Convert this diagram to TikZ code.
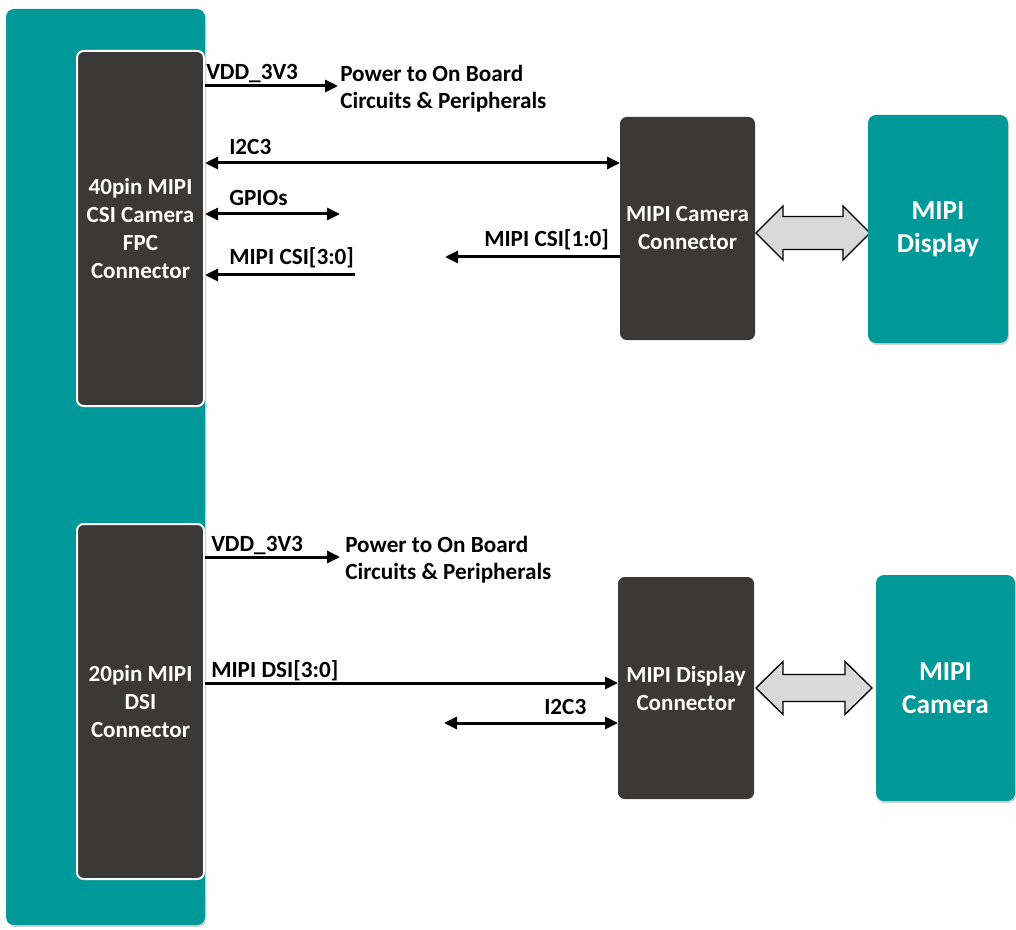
\documentclass[tikz,border=0pt]{standalone}
\usepackage{fontspec}
\setmainfont{Carlito}
\usetikzlibrary{arrows.meta,shadows,calc}
\definecolor{tealA}{HTML}{009999}
\definecolor{darkA}{HTML}{3A3938}
\definecolor{greyA}{HTML}{D9D9D9}
\begin{document}
\begin{tikzpicture}[x=0.75pt,y=-0.75pt,
  shd/.style={drop shadow={opacity=0.35,shadow xshift=0.8pt,shadow yshift=-1.5pt}},
  boardbox/.style={fill=tealA,rounded corners=6pt,shd,inner sep=0},
  connbox/.style={fill=darkA,draw=white,line width=1.5pt,rounded corners=5pt,text=white,
    font=\bfseries\fontsize{17.3}{21}\selectfont,align=center,inner sep=0},
  devbox/.style={fill=tealA,rounded corners=6pt,text=white,shd,
    font=\bfseries\fontsize{20.5}{24.5}\selectfont,align=center,inner sep=0},
  sig/.style={line width=2.25pt,-{Triangle[length=9.75pt,width=9pt]}},
  bisig/.style={line width=2.25pt,{Triangle[length=9.75pt,width=9pt]}-{Triangle[length=9.75pt,width=9pt]}},
  lbl/.style={font=\bfseries\fontsize{17.4}{20.25}\selectfont,inner sep=0,anchor=base west},
  ptxt/.style={font=\bfseries\fontsize{17.4}{20.25}\selectfont,inner sep=0,anchor=west,align=left},
  blkarrow/.style={fill=greyA,draw=black,line width=1pt,line join=miter}
]
\useasboundingbox (0,0) rectangle (1016,930);

% main board and connectors
\node[boardbox,minimum width=199*0.75pt,minimum height=916*0.75pt] (board) at (105.5,467) {};
\node[connbox,minimum width=127*0.75pt,minimum height=355*0.75pt] (fpc) at (140.5,228.5)
  {40pin MIPI\\CSI Camera\\FPC\\Connector};
\node[connbox,minimum width=127*0.75pt,minimum height=355*0.75pt] (dsi) at (140.5,701.5)
  {20pin MIPI\\DSI\\Connector};

\node[connbox,line width=0pt,draw=none,minimum width=135*0.75pt,minimum height=223*0.75pt] (camconn) at (687.5,228.5)
  {MIPI Camera\\Connector};
\node[connbox,line width=0pt,draw=none,minimum width=136*0.75pt,minimum height=222*0.75pt] (dispconn) at (686,688)
  {MIPI Display\\Connector};

% block double arrows (drawn before the device boxes)
\draw[blkarrow] ($(camconn.east)+(1,4.5)$) -- ++(27,-27) -- ++(0,10.5) -- ++(60,0) -- ++(0,-10.5)
  -- ++(27,27) -- ++(-27,27) -- ++(0,-10.5) -- ++(-60,0) -- ++(0,10.5) -- cycle;
\draw[blkarrow] ($(dispconn.east)+(2,0)$) -- ++(27,-26.5) -- ++(0,13) -- ++(62,0) -- ++(0,-13)
  -- ++(27,26.5) -- ++(-27,26.5) -- ++(0,-13) -- ++(-62,0) -- ++(0,13) -- cycle;

\node[devbox,minimum width=140*0.75pt,minimum height=228*0.75pt] (disp) at (938,229) {MIPI\\Display};
\node[devbox,minimum width=139*0.75pt,minimum height=226*0.75pt] (cam) at (945.5,688) {MIPI\\Camera};

% ---- top section signals
\coordinate (pw1) at (338,86);
\coordinate (i2ct) at (617,163);
\coordinate (gp) at (340,214);
\coordinate (csi3) at (355,275);
\coordinate (csi1) at (445,257);

\node[lbl] (vdd1) at (206,80) {VDD\_3V3};
\node[ptxt] (pow1) at (340,88.5) {Power to On Board\\Circuits \& Peripherals};
\draw[sig] (fpc.east |- pw1) -- (pw1);

\node[lbl] (li2c1) at (229,155) {I2C3};
\draw[bisig] (fpc.east |- i2ct) -- (camconn.west |- i2ct);

\node[lbl] (lgp) at (229,206) {GPIOs};
\draw[bisig] (fpc.east |- gp) -- (gp);

\node[lbl] (lcsi3) at (229,265) {MIPI CSI[3:0]};
\draw[sig] (csi3) -- (fpc.east |- csi3);

\node[lbl] (lcsi1) at (484,247) {MIPI CSI[1:0]};
\draw[sig] (camconn.west |- csi1) -- (csi1);

% ---- bottom section signals
\coordinate (pw2) at (340,557);
\coordinate (dsiy) at (400,683);
\coordinate (i2cb) at (444,723);

\node[lbl] (vdd2) at (211,551) {VDD\_3V3};
\node[ptxt] (pow2) at (345,560) {Power to On Board\\Circuits \& Peripherals};
\draw[sig] (dsi.east |- pw2) -- (pw2);

\node[lbl] (ldsi) at (211,677) {MIPI DSI[3:0]};
\draw[sig] (dsi.east |- dsiy) -- (dispconn.west |- dsiy);

\node[lbl] (li2c2) at (544,714) {I2C3};
\draw[bisig] (i2cb) -- (dispconn.west |- i2cb);
\end{tikzpicture}
\end{document}
